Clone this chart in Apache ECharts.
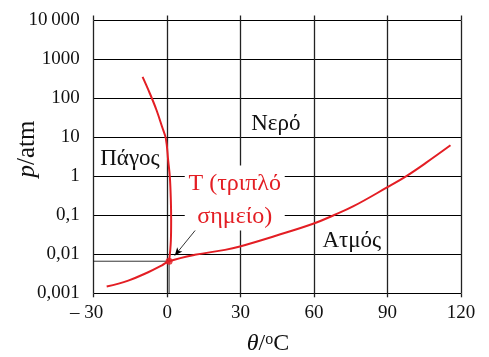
<!DOCTYPE html>
<html><head><meta charset="utf-8">
<script src="https://cdn.jsdelivr.net/npm/echarts@6/dist/echarts.min.js"></script>
<style>html,body{margin:0;padding:0;background:#fff}#c{width:489px;height:357px}</style>
</head><body><div id="c"></div>
<script>
// ---- data ----
const xTicks = [-30, 0, 30, 60, 90, 120];
const xTickLabels = ['– 30', '0', '30', '60', '90', '120'];
const yTicks = [0.001, 0.01, 0.1, 1, 10, 100, 1000, 10000];
const yTickLabels = ['0,001', '0,01', '0,1', '1', '10', '100', '1000', '10\u2009000'];
// melting curve (θ °C, p atm)
const meltCurve = [[0.8,0.00665],[1.51,0.0226],[1.63,0.074],[1.51,0.241],[1.1,0.96],[0.41,2.58],[-0.53,9.31],[-2.04,18.5],[-4.33,49.8],[-7.06,134],[-10.04,357]];
// vaporisation / sublimation curve
const vapCurve = [[-24.7,0.00149],[-15.9,0.00212],[-7.76,0.00347],[-2.29,0.00515],[0.8,0.00665],[11.3,0.0097],[23.6,0.013],[29.7,0.0159],[44.7,0.0304],[59.6,0.0608],[67.8,0.0994],[75.9,0.169],[89.6,0.513],[97.7,1.02],[105.8,2.25],[115.7,6.27]];
const triplePoint = [0.8, 0.00665];
const regionLabels = [
  {name:'Πάγος', pos:[-15.2, 2.74]},
  {name:'Νερό', pos:[44.4, 21.7]},
  {name:'Ατμός', pos:[75.4, 0.0226]}
];
const tLabel = {text:'T (τριπλό\nσημείο)', pos:[27.6, 0.241]};
const arrowFrom = [15.4, 0.083];
const arrowTo = [3.1, 0.0093];

const RED = '#e31e24';
const FONT = '"Liberation Serif", "DejaVu Serif", serif';
const xMin = xTicks[0], xMax = xTicks[xTicks.length-1];

const chart = echarts.init(document.getElementById('c'), null, {renderer:'canvas'});
function yFmt(v){ const i = Math.round(Math.log10(v)) + 3; return yTickLabels[i] !== undefined ? yTickLabels[i] : ''; }
function xFmt(v){ const i = xTicks.indexOf(Math.round(v)); if (i === 0) return '{h|– }30{t|– }'; return i >= 0 ? xTickLabels[i] : ''; }

chart.setOption({
  animation:false,
  backgroundColor:'#fff',
  grid:{left:93.7, right:28, top:20.5, bottom:63.7},
  xAxis:[{
    type:'value', min:xMin, max:xMax, interval:30,
    axisLine:{show:false},
    axisTick:{show:true, length:4, lineStyle:{color:'#222', width:1.3}},
    splitLine:{show:true, lineStyle:{color:'#222', width:1.3}},
    axisLabel:{formatter:xFmt, margin:10, color:'#111', fontFamily:FONT, fontSize:19,
      rich:{h:{fontFamily:FONT, fontSize:19, color:'#111'}, t:{fontFamily:FONT, fontSize:19, color:'transparent'}}}
  },{
    type:'value', min:xMin, max:xMax, interval:30, position:'top',
    axisLine:{show:false}, axisLabel:{show:false}, splitLine:{show:false},
    axisTick:{show:true, length:5, lineStyle:{color:'#222', width:1.3}}
  }],
  yAxis:[{
    type:'log', logBase:10, min:0.001, max:10000, splitNumber:7,
    axisLine:{show:false},
    axisTick:{show:true, length:6, lineStyle:{color:'#000', width:1}},
    minorTick:{show:false},
    splitLine:{show:true, lineStyle:{color:'#000', width:1}},
    axisLabel:{formatter:yFmt, margin:14, color:'#111', fontFamily:FONT, fontSize:19}
  },{
    type:'log', logBase:10, min:0.001, max:10000, splitNumber:7, position:'right',
    axisLine:{show:false}, axisLabel:{show:false}, splitLine:{show:false},
    axisTick:{show:true, length:5, lineStyle:{color:'#000', width:1}}
  }],
  series:[
    {type:'line', data:[[xMin, triplePoint[1]], triplePoint, [triplePoint[0], 0.001]], symbol:'none', silent:true,
     lineStyle:{color:'#000', width:0.8}, z:2},
    {type:'line', data:meltCurve, smooth:0.4, symbol:'none', lineStyle:{color:RED, width:2}, z:3},
    {type:'line', data:vapCurve, smooth:0.4, symbol:'none', lineStyle:{color:RED, width:2}, z:3,
     markLine:{silent:true, symbol:['none','arrow'], symbolSize:[5,8], label:{show:false},
       lineStyle:{color:'#000', width:0.8, type:'solid'},
       data:[[{coord:arrowFrom},{coord:arrowTo}]]}},
    {type:'scatter', data:[triplePoint], symbol:'circle', symbolSize:7, itemStyle:{color:RED}, z:4}
  ]
});

// text annotations placed at data coordinates
const P = c => chart.convertToPixel({gridIndex:0}, c);
const g = [];
regionLabels.forEach(r => {
  const p = P(r.pos);
  g.push({type:'text', x:p[0], y:p[1], z:10,
    style:{text:r.name, align:'center', verticalAlign:'middle', fill:'#111', font:'23px ' + FONT}});
});
const tp = P(tLabel.pos);
g.push({type:'rect', x:tp[0]-50, y:tp[1]-35, z:9, shape:{width:100, height:65}, style:{fill:'#fff'}});
g.push({type:'text', x:tp[0], y:tp[1], z:10,
  style:{text:tLabel.text, align:'center', verticalAlign:'middle', fill:RED, font:'24px ' + FONT, lineHeight:33}});
g.push({type:'text', x:27, y:149, rotation:Math.PI/2, z:10,
  style:{text:'{i|p}/atm', align:'center', verticalAlign:'middle', fill:'#111', font:'25px ' + FONT,
    rich:{i:{font:'italic 25px ' + FONT, fill:'#111'}}}});
g.push({type:'text', x:268, y:344, z:10,
  style:{text:'{i|θ}/{s|o}C', align:'center', verticalAlign:'middle', fill:'#111', font:'24px ' + FONT,
    rich:{i:{font:'italic 24px ' + FONT, fill:'#111'}, s:{font:'16px ' + FONT, fill:'#111', verticalAlign:'top'}}}});
chart.setOption({graphic:g});
</script>
</body></html>
